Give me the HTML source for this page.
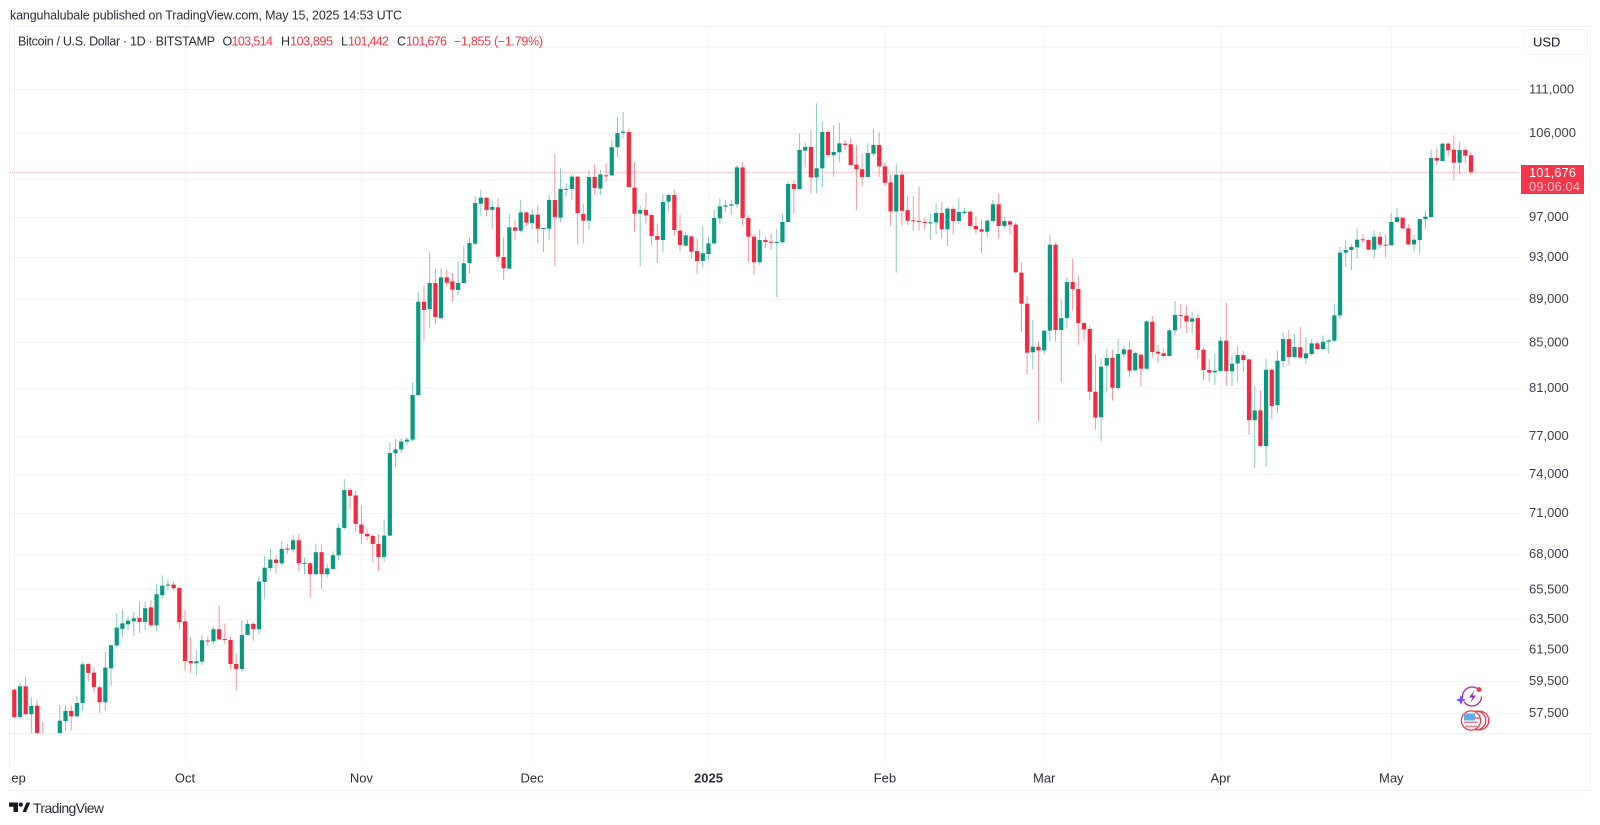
<!DOCTYPE html>
<html lang="en">
<head>
<meta charset="utf-8">
<title>Bitcoin / U.S. Dollar 1D chart</title>
<style>
  html, body { margin: 0; padding: 0; background: #ffffff; }
  svg { display: block; font-family: "Liberation Sans", sans-serif; }
</style>
</head>
<body>
<svg id="chart" xmlns="http://www.w3.org/2000/svg" width="1600" height="825" viewBox="0 0 1600 825">
  <defs>
    <clipPath id="pane-clip"><rect x="10" y="27" width="1510" height="706"></rect></clipPath>
    <clipPath id="time-clip"><rect x="10.5" y="764" width="1579" height="25"></rect></clipPath>
  </defs>
  <rect x="0" y="0" width="1600" height="825" fill="#ffffff"></rect>
  <text x="10" y="19.5" font-size="12.5" fill="#2a2e39" textLength="392" lengthAdjust="spacing">kanguhalubale published on TradingView.com, May 15, 2025 14:53 UTC</text>
  <rect x="9.5" y="26.5" width="1580.5" height="764" fill="none" stroke="#f0f3fa" stroke-width="1"></rect>
  <g id="grid"></g>
  <line x1="10" y1="733.5" x2="1590" y2="733.5" stroke="#eceef2" stroke-width="1"></line>
  <line id="price-line" x1="10" x2="1520" stroke="#f23645" stroke-opacity="0.4" stroke-width="1" stroke-dasharray="1 1"></line>
  <g id="candles" clip-path="url(#pane-clip)"></g>
  <g id="price-axis" font-size="13" fill="#3c4049"></g>
  <g id="time-axis" font-size="13" fill="#2a2e39" clip-path="url(#time-clip)"></g>

  <g font-size="12.5" fill="#2a2e39">
    <text x="18" y="45.5" textLength="197" lengthAdjust="spacing">Bitcoin / U.S. Dollar · 1D · BITSTAMP</text>
    <text x="222.5" y="45.5">O</text>
    <text x="231.5" y="45.5" fill="#f23645" textLength="41.5">103,514</text>
    <text x="281" y="45.5">H</text>
    <text x="290" y="45.5" fill="#f23645" textLength="43">103,895</text>
    <text x="341" y="45.5">L</text>
    <text x="348" y="45.5" fill="#f23645" textLength="41">101,442</text>
    <text x="397" y="45.5">C</text>
    <text x="406" y="45.5" fill="#f23645" textLength="41">101,676</text>
    <text x="454" y="45.5" fill="#f23645" textLength="89">−1,855 (−1.79%)</text>
  </g>

  <rect x="1524.5" y="29.5" width="63" height="25" rx="4" fill="#ffffff" stroke="#f0f3fa"></rect>
  <text x="1533" y="46.5" font-size="13" fill="#131722">USD</text>

  <g>
    <rect x="1521" y="165" width="63" height="29" fill="#f5364a"></rect>
    <text x="1529" y="177" font-size="13" fill="#ffffff">101,676</text>
    <text x="1529" y="191" font-size="13" fill="#ffffff" fill-opacity="0.7" textLength="51">09:06:04</text>
  </g>

  <g>
    <circle cx="1472" cy="696.5" r="9.5" fill="none" stroke="#9c27b0" stroke-width="1.3" stroke-dasharray="24 4 26 6"></circle>
    <path d="M1474.5 690.5 L1469 697.5 L1472.5 697.5 L1470.5 702.5 L1476 695.5 L1472.5 695.5 Z" fill="#9c27b0"></path>
    <circle cx="1479" cy="689.5" r="2.4" fill="#f23645"></circle>
    <path d="M1461 695 L1462.5 698.5 L1466 700 L1462.5 701.5 L1461 705 L1459.5 701.5 L1456 700 L1459.5 698.5 Z" fill="#7c4dff"></path>
  </g>
  <g>
    <circle cx="1479.5" cy="720.5" r="9.3" fill="#ffffff" stroke="#f23645" stroke-width="1.3"></circle>
    <circle cx="1476.5" cy="720.5" r="9.3" fill="#ffffff" stroke="#f23645" stroke-width="1.3"></circle>
    <circle cx="1471" cy="720.5" r="9.6" fill="#ffffff" stroke="#f23645" stroke-width="1.3"></circle>
    <path d="M1475 717h4.5v2h-4.5z M1464 721.5h14v1.6h-14z M1465 725.5h12v1.6h-12z" fill="#f9808b"></path>
    <rect x="1464" y="713.5" width="11" height="7" fill="#64a8e8"></rect>
  </g>

  <g>
    <path d="M9 802.5h9v9.5h-4.5v-5.2H9z M22.5 812l4-9.5h3.6l-4 9.5z" fill="#131722"></path>
    <circle cx="20.8" cy="804.6" r="2.1" fill="#131722"></circle>
    <text x="33" y="813" font-size="14" fill="#2a2e39" textLength="71">TradingView</text>
  </g>
</svg>

<script>
const priceTicks = [111000, 106000, 97000, 93000, 89000, 85000, 81000, 77000, 74000, 71000, 68000, 65500, 63500, 61500, 59500, 57500];
const priceTickLabels = ["111,000", "106,000", "97,000", "93,000", "89,000", "85,000", "81,000", "77,000", "74,000", "71,000", "68,000", "65,500", "63,500", "61,500", "59,500", "57,500"];
const hiddenGridTicks = [116000, 101000];
const monthDays = [0, 30, 61, 91, 122, 153, 181, 212, 242];
const monthLabels = ["Sep", "Oct", "Nov", "Dec", "2025", "Feb", "Mar", "Apr", "May"];
const lastPrice = 101676;

const opens = [
58930,57250,59140,57420,57945,56150,53950,54150,54850,57010,
57620,57295,58110,60545,59995,59075,58150,60270,61735,62830,
63135,63335,63560,63290,64275,63070,65100,65760,65830,65600,
63335,60735,60590,60695,62060,62015,62805,62165,62100,60545,
60230,62430,63160,62805,66015,66990,67590,67325,68380,68305,
68980,67305,67325,66555,68115,66555,66925,67900,69885,72725,
72315,70130,69445,69295,68715,67780,69320,75600,75910,76550,
76700,80390,88705,88020,90470,87185,91010,90625,89805,90470,
92400,94300,98360,98985,97720,97995,92985,91850,95940,95600,
97465,96375,97225,95805,95805,98740,96925,99825,99895,101200,
97295,96615,101165,99930,101345,101345,104400,105980,106090,100035,
97325,97710,97195,95060,94660,98570,99265,95600,94100,95030,
93575,92595,93280,94330,96850,98060,98160,98295,102200,96880,
95000,92465,94660,94500,94400,94435,96480,100420,99895,104015,
104420,101130,102095,106085,103540,103835,104790,104715,102490,101990,
101165,103690,104640,102310,100590,97555,101410,97695,96645,96580,
96480,96340,96445,97400,95740,97815,96580,97400,97535,96075,
95740,95500,96580,98295,96075,96545,96210,91460,88520,84095,
84600,84270,86035,94200,86095,87180,90560,89900,86730,86190,
80675,78540,82920,83620,80985,83915,84330,82510,83885,82655,
86850,84150,84005,83770,86065,87465,87405,86850,87185,84330,
82540,82340,82450,85130,82425,83120,83855,83470,78290,79100,
76180,82565,79545,83320,85280,83680,84540,83560,83945,84895,
84390,85040,85130,87435,93410,93675,93940,94730,94660,93710,
95000,94200,94135,96480,96915,95840,94230,94660,96780,96985,
103210,102885,104785,104125,102705,104085,103514];

const highs = [
58990,59365,59760,58480,58270,56950,54300,55300,58005,58005,
57965,58540,60675,60610,60355,59180,61320,61800,63850,64120,
63625,63960,64680,64660,64750,65830,66480,66200,66060,65650,
64075,62300,61430,62430,62340,62960,64410,63180,62300,61215,
63400,63445,63290,66410,67875,68370,67900,68930,68690,69350,
69420,67730,67400,68735,68690,67305,68185,70205,73570,72880,
72650,71570,69830,69395,69420,70500,76445,76800,76800,76900,
81470,89650,90215,93445,91820,91885,91785,91430,92595,94070,
94895,99150,99790,99000,98600,98915,94960,97295,96615,98740,
97535,97840,98190,95900,99265,103610,102095,100490,101380,101250,
98290,101915,102525,101915,102630,105190,107810,108350,106470,102740,
98120,99500,97295,96340,99365,99440,99860,97260,95500,95060,
94800,96110,94930,97710,98915,98740,98740,102460,102740,97185,
95265,95740,95000,95300,95805,97280,100665,100840,105935,104900,
106275,109340,107245,106310,106870,107130,105190,105420,104640,103725,
104825,106420,106050,102740,101375,102560,101770,99150,99150,100140,
96915,97295,98325,98500,98055,98055,98915,97950,97710,97020,
96750,96750,98740,99475,96985,96680,96445,92495,89230,87000,
85070,86100,95150,94430,88920,91010,92790,91235,86850,86460,
83940,83530,84390,84300,85280,84685,85100,84150,83945,87000,
87400,84745,84450,86245,88770,88490,88300,87745,87465,84540,
83470,83945,85490,88580,83800,84650,84240,83560,81185,80815,
83530,82680,84240,85880,86095,85735,86400,85460,85280,85100,
85610,85280,88490,93970,94660,94230,95800,95265,94730,95600,
95470,95265,97425,97880,96950,96275,95200,96815,97675,104160,
104270,104900,104935,105720,104935,104310,103895];

const lows = [
57150,57130,57355,55600,55700,52600,53750,53650,54600,56440,
56440,57250,57620,59450,58745,57500,57620,59160,61605,62300,
62765,62365,62565,62720,62940,62700,64865,65440,65440,62830,
60150,59975,59830,60485,61710,61820,62080,61840,60230,58870,
60040,62400,62035,62430,64820,66765,66600,67160,68020,68070,
66770,66530,64980,66480,65510,66340,67515,67515,69760,71280,
69600,68710,68980,67420,66770,67420,69280,74490,75600,76250,
76550,80305,85130,86275,86640,87060,90120,88675,89330,90405,
91400,94135,97125,97090,95770,92530,90750,91785,94660,95430,
96070,95770,94365,93450,94660,92130,96440,99150,98740,94230,
94300,95670,99265,99265,100590,101270,103280,105380,100070,95500,
92100,96340,94170,92400,93445,97535,95100,93545,94060,92855,
91330,91950,92755,94200,96275,97500,97190,97880,96110,92495,
91235,92210,93840,93675,89110,94330,96410,97315,99860,102200,
99440,99440,100070,103240,101165,102740,104090,102415,97710,100165,
101095,103400,101165,100205,96110,91460,96110,96175,95600,95600,
95740,94660,95265,94860,94070,95200,96275,97295,96010,95235,
93345,94960,96410,94760,95770,95265,91335,85910,82105,82600,
78210,83905,85040,85040,81430,86335,87870,84745,85130,79960,
77470,76580,80585,79905,80815,83650,81930,82480,81100,82540,
83590,83120,83650,83710,85585,86245,85850,85820,83500,81640,
81530,81240,82430,81160,81160,81530,82380,77070,74450,76150,
74530,78400,78895,82800,82975,83620,83560,83090,83800,84300,
84300,83975,85100,87090,91980,91690,92885,94330,93675,92855,
93840,92950,94100,96410,95770,94170,93510,93345,95800,96915,
102345,102810,103360,100770,101450,102635,101442];

const closes = [
57250,59140,57420,57925,56150,53950,54150,54850,57030,57620,
57295,58110,60525,59975,59095,58150,60315,61755,62915,63200,
63380,63535,63290,64210,63070,65165,65760,65830,65580,63270,
60735,60590,60715,62080,62040,62805,62145,62100,60545,60230,
62430,63160,62805,66040,67015,67590,67350,68355,68305,68980,
67325,67350,66555,68115,66555,66970,67900,69885,72725,72290,
70180,69470,69270,68715,67780,69320,75620,75910,76550,76700,
80390,88705,87930,90470,87280,91010,90500,89835,90470,92370,
94365,98430,98985,97720,98030,93020,91880,95940,95600,97465,
96410,97225,95805,95870,98740,96995,99895,99900,101200,97395,
96615,101165,100000,101450,101310,104400,105980,106130,100105,97325,
97710,97160,95060,94695,98535,99265,95670,94170,95130,93510,
92595,93345,94330,96885,98090,98190,98295,102200,96880,95000,
92465,94660,94465,94400,94465,96480,100420,99895,104090,104420,
101130,102095,106085,103540,103870,104825,104640,102450,101990,101165,
103760,104640,102310,100555,97555,101410,97620,96610,96580,96510,
96375,96445,97400,95740,97850,96580,97500,97535,96075,95740,
95500,96610,98295,96075,96580,96210,91500,88520,84065,84600,
84270,86035,94200,86095,87180,90560,89900,86730,86155,80675,
78510,82830,83590,81015,83945,84360,82480,84035,82655,86880,
84120,83975,83770,86065,87465,87405,86880,87155,84300,82540,
82310,82480,85130,82450,83090,83855,83410,78290,79100,76180,
82565,79460,83350,85280,83680,84570,83620,84005,84895,84390,
85040,85160,87435,93410,93675,93970,94695,94695,93710,95000,
94200,94100,96480,96950,95840,94230,94695,96780,97020,103210,
102920,104785,104050,102705,104085,103465,101676];

const SVG_NS = "http://www.w3.org/2000/svg";
const Y_REF_PRICE = 111000, Y_REF_PIXEL = 89, Y_PIXELS_PER_LOG = 948.6;
const X_ORIGIN = 14.3, X_PER_DAY = 5.69;

function xScale(day) { return X_ORIGIN + X_PER_DAY * day; }
function yScale(price) { return Y_REF_PIXEL + Y_PIXELS_PER_LOG * Math.log(Y_REF_PRICE / price); }

function make(tag, attrs, text) {
  const el = document.createElementNS(SVG_NS, tag);
  for (const k in attrs) el.setAttribute(k, attrs[k]);
  if (text !== undefined) el.textContent = text;
  return el;
}

const gridGroup = document.getElementById("grid");
const candleGroup = document.getElementById("candles");
const priceAxis = document.getElementById("price-axis");
const timeAxis = document.getElementById("time-axis");
const GRID_COLOR = "#f4f5f8";

priceTicks.concat(hiddenGridTicks).forEach(function (tick) {
  const y = Math.round(yScale(tick)) + 0.5;
  const line = make("line", { x1: 10, x2: 1520, y1: y, y2: y, stroke: GRID_COLOR, "stroke-width": 1 });
  
  
  gridGroup.appendChild(line);
});

monthDays.forEach(function (day, i) {
  const x = Math.round(xScale(day)) + 0.5;
  const line = make("line", { x1: x, x2: x, y1: 27, y2: 763, stroke: GRID_COLOR, "stroke-width": 1 });
  
  
  gridGroup.appendChild(line);

  const label = make("text", { x: xScale(day), y: 782.5, "text-anchor": "middle" }, monthLabels[i]);
  if (monthLabels[i] === "2025") label.setAttribute("font-weight", "700");
  
  
  timeAxis.appendChild(label);
});

priceTicks.forEach(function (tick, i) {
  const label = make("text", { x: 1529, y: yScale(tick) + 4.3 }, priceTickLabels[i]);
  
  
  priceAxis.appendChild(label);
});

const priceLine = document.getElementById("price-line");
priceLine.setAttribute("y1", yScale(lastPrice));
priceLine.setAttribute("y2", yScale(lastPrice));

const UP_COLOR = "#089981", DOWN_COLOR = "#f5283f";
closes.forEach(function (close, i) {
  const open = opens[i];
  const color = close >= open ? UP_COLOR : DOWN_COLOR;
  const cx = xScale(i);
  const top = yScale(Math.max(open, close));
  const bottom = yScale(Math.min(open, close));

  const wick = make("line", { x1: cx, x2: cx, y1: yScale(highs[i]), y2: yScale(lows[i]), stroke: color, "stroke-width": 1, "stroke-opacity": 0.5 });
  
  
  candleGroup.appendChild(wick);

  const body = make("rect", { x: cx - 2.1, y: top, width: 4.2, height: Math.max(bottom - top, 1), fill: color });
  
  
  candleGroup.appendChild(body);
});
</script>
</body>
</html>
